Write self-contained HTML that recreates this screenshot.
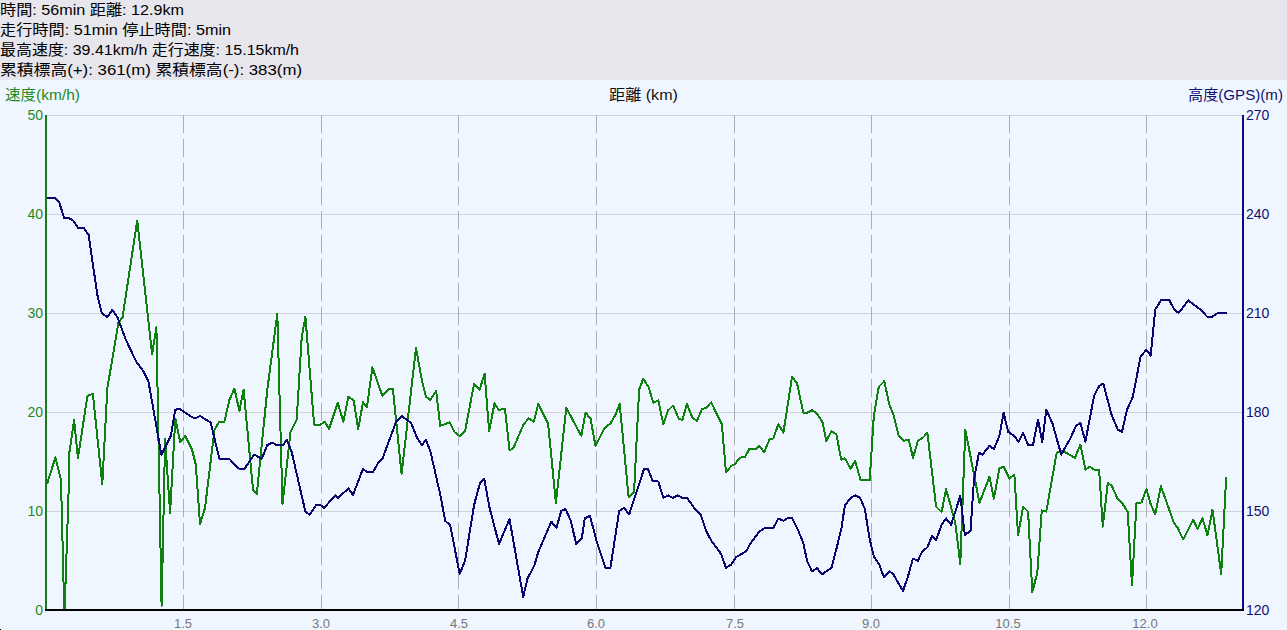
<!DOCTYPE html>
<html lang="ja"><head><meta charset="utf-8"><title>走行ログ グラフ</title>
<style>
html,body{margin:0;padding:0;background:#f0f6ff;}
body{width:1287px;height:630px;overflow:hidden;position:relative;font-family:"Liberation Sans",sans-serif;}
#chart{position:absolute;left:0;top:0;display:block;}
#labels text{font-family:"Liberation Sans","Noto Sans CJK JP",sans-serif;}
.t{position:absolute;height:16px;line-height:16px;font-size:13px;color:transparent;white-space:pre;overflow:hidden;}
</style></head><body>
<svg id="chart" width="1287" height="630" viewBox="0 0 1287 630">
<rect x="0" y="0" width="1287" height="80" fill="#e6e6ec"/>
<rect x="0" y="80" width="1287" height="550" fill="#f0f6ff"/>
<g shape-rendering="crispEdges" fill="none">
<line x1="47" y1="115.5" x2="1242" y2="115.5" stroke="#cfd2d9" stroke-width="1"/>
<line x1="47" y1="214.5" x2="1242" y2="214.5" stroke="#cfd2d9" stroke-width="1"/>
<line x1="47" y1="313.5" x2="1242" y2="313.5" stroke="#cfd2d9" stroke-width="1"/>
<line x1="47" y1="412.5" x2="1242" y2="412.5" stroke="#cfd2d9" stroke-width="1"/>
<line x1="47" y1="511.5" x2="1242" y2="511.5" stroke="#cfd2d9" stroke-width="1"/>
<line x1="183.5" y1="115" x2="183.5" y2="609" stroke="#abadb7" stroke-width="1" stroke-dasharray="18 6"/>
<line x1="321.5" y1="115" x2="321.5" y2="609" stroke="#abadb7" stroke-width="1" stroke-dasharray="18 6"/>
<line x1="458.5" y1="115" x2="458.5" y2="609" stroke="#abadb7" stroke-width="1" stroke-dasharray="18 6"/>
<line x1="596.5" y1="115" x2="596.5" y2="609" stroke="#abadb7" stroke-width="1" stroke-dasharray="18 6"/>
<line x1="734.5" y1="115" x2="734.5" y2="609" stroke="#abadb7" stroke-width="1" stroke-dasharray="18 6"/>
<line x1="871.5" y1="115" x2="871.5" y2="609" stroke="#abadb7" stroke-width="1" stroke-dasharray="18 6"/>
<line x1="1009.5" y1="115" x2="1009.5" y2="609" stroke="#abadb7" stroke-width="1" stroke-dasharray="18 6"/>
<line x1="1146.5" y1="115" x2="1146.5" y2="609" stroke="#abadb7" stroke-width="1" stroke-dasharray="18 6"/>
</g>
<polyline points="47.0,484.0 55.4,457.5 61.0,480.0 64.2,609.0 64.7,609.0 68.8,485.0 69.3,453.0 74.1,419.7 77.9,458.3 87.4,396.0 92.8,393.6 102.3,484.2 107.3,388.6 118.5,322.4 122.5,317.5 137.2,220.6 152.1,354.2 156.4,327.4 161.6,606.0 165.1,439.3 170.1,512.9 175.3,418.5 180.3,442.1 185.3,435.9 192.0,449.6 195.8,464.6 200.0,524.1 205.0,508.0 214.5,429.7 218.9,422.2 224.4,421.7 229.4,399.8 234.4,388.6 239.4,411.0 243.6,389.8 253.1,490.4 256.8,494.2 267.3,389.8 277.3,313.8 282.5,504.2 290.5,432.2 296.7,419.7 301.7,337.5 305.4,316.6 314.1,424.7 320.4,424.7 324.6,421.7 329.1,428.9 337.8,402.8 343.3,421.7 348.3,396.8 353.7,400.3 358.2,428.9 363.0,402.3 366.9,407.3 372.4,367.4 382.4,396.0 388.6,389.3 392.9,389.3 401.6,474.0 416.0,347.9 421.8,379.8 426.0,396.8 430.2,399.8 436.2,391.1 440.2,425.9 449.7,422.2 454.7,432.2 459.7,435.9 465.1,430.9 474.1,383.6 479.6,389.8 484.6,373.6 489.1,430.9 494.5,403.5 498.8,409.7 505.0,409.2 509.5,450.1 513.2,448.4 523.7,424.2 528.7,418.5 533.9,421.7 538.2,404.0 548.1,423.5 555.9,502.9 566.3,407.8 581.3,435.9 585.5,412.7 590.5,418.5 595.5,445.9 604.2,428.4 610.4,423.5 615.4,414.7 619.7,404.0 628.6,497.2 634.1,491.7 639.1,389.8 643.3,378.6 648.6,387.3 653.3,402.8 658.3,400.5 663.3,424.0 668.2,410.2 673.0,405.5 678.7,418.5 682.4,420.2 686.9,404.0 692.4,417.7 696.9,421.0 701.9,409.3 706.1,407.8 711.1,402.3 721.8,424.2 726.0,472.1 731.5,465.8 734.8,464.1 740.2,457.6 745.2,456.6 749.2,449.1 756.0,448.9 759.2,445.9 764.2,452.1 769.7,439.2 773.4,438.4 778.4,424.0 783.4,432.7 792.1,376.6 797.1,383.6 803.3,412.7 807.0,412.7 812.0,410.2 817.0,413.5 822.5,422.2 826.2,440.9 831.5,431.4 836.4,434.2 841.2,459.6 844.9,458.3 850.7,468.8 855.1,460.8 860.6,480.0 869.7,480.0 873.8,416.0 878.8,386.8 884.3,381.1 889.3,404.8 893.5,414.7 898.8,435.9 903.7,440.9 908.7,439.7 913.0,457.8 917.9,440.9 922.9,437.7 927.4,432.7 936.1,506.6 941.6,512.1 946.1,489.2 955.3,522.8 960.3,564.0 965.3,429.7 979.5,502.9 989.4,476.7 993.9,498.7 999.4,468.3 1003.6,466.6 1009.4,478.6 1014.4,474.7 1018.1,535.3 1023.1,506.6 1028.1,511.6 1032.3,592.1 1037.3,572.7 1041.8,510.4 1046.3,511.6 1056.7,452.6 1063.0,450.9 1074.9,457.8 1080.4,444.6 1085.4,469.6 1089.9,466.6 1094.1,469.6 1099.1,469.6 1102.8,526.6 1107.8,483.0 1111.5,485.5 1117.8,499.2 1122.8,504.2 1127.7,511.6 1132.0,585.1 1136.5,503.4 1141.5,502.4 1146.4,489.2 1150.7,504.2 1155.2,514.1 1160.9,486.2 1173.9,522.8 1177.6,527.8 1183.3,539.5 1193.3,519.6 1197.5,529.1 1202.5,518.4 1207.5,535.3 1212.5,509.6 1221.2,573.9 1226.2,476.7" fill="none" stroke="#0c820c" stroke-width="2" stroke-linejoin="round" stroke-linecap="butt" shape-rendering="crispEdges"/>
<polyline points="47.0,198.0 55.5,198.0 59.4,203.0 64.2,217.9 68.7,217.9 73.6,221.0 77.9,227.8 83.6,227.8 88.6,234.8 97.3,294.6 101.8,313.3 107.3,317.0 112.3,310.0 117.3,317.0 126.0,340.0 136.0,361.2 143.4,371.1 148.4,381.1 161.4,454.6 170.8,435.9 175.3,409.7 179.6,409.0 189.5,415.5 194.5,418.5 200.2,416.0 210.7,422.7 219.4,458.8 229.4,458.8 234.4,464.6 239.4,468.8 244.4,468.8 254.3,454.6 261.8,458.8 267.3,445.1 272.3,442.6 276.8,445.1 283.0,445.1 286.7,439.7 291.7,452.1 305.4,511.6 309.7,514.9 316.1,504.9 320.4,504.9 324.1,507.9 335.3,495.4 337.8,497.9 348.5,488.5 353.0,494.9 363.0,468.8 366.9,472.1 372.9,472.1 378.7,462.1 382.4,458.8 396.1,421.7 401.6,416.0 411.1,423.0 416.8,437.2 421.8,445.1 426.0,439.7 430.4,451.4 440.4,495.2 445.2,520.8 450.2,525.3 459.7,573.9 465.1,560.7 474.1,504.9 480.1,482.5 484.2,478.8 489.6,507.9 499.0,544.0 509.5,519.1 523.2,596.9 527.4,578.9 534.4,565.2 538.2,552.3 551.4,521.6 556.4,527.8 561.3,510.9 565.6,509.1 570.6,520.4 576.3,544.0 581.8,538.3 584.8,518.4 590.0,515.9 596.7,541.5 605.5,567.7 610.4,567.7 619.2,510.9 624.1,507.9 629.1,514.6 644.1,468.8 647.8,468.8 652.8,481.3 658.3,481.5 663.3,497.9 668.2,495.4 672.5,497.9 677.9,495.4 682.4,497.9 686.9,497.9 696.1,510.4 701.1,515.4 706.1,530.8 711.1,540.3 721.1,554.0 726.0,567.7 731.0,564.7 736.0,557.2 746.0,551.5 750.2,544.0 759.2,531.6 765.2,527.8 773.4,527.8 778.4,518.6 783.4,520.8 787.1,518.4 792.1,517.9 798.3,530.8 803.3,542.8 807.0,560.7 812.0,571.4 817.0,568.2 822.0,574.4 831.5,567.7 836.4,549.0 841.4,528.3 844.9,505.4 850.7,497.9 855.1,495.4 860.1,497.9 864.9,509.1 869.3,537.3 873.8,556.5 879.3,564.7 883.8,576.9 889.3,571.4 893.0,573.9 898.8,583.9 903.0,590.9 908.0,576.4 913.0,558.5 917.9,560.7 922.2,551.5 927.4,547.3 932.1,535.8 936.1,540.3 941.6,524.8 946.1,518.4 951.1,524.8 960.3,495.9 964.8,534.8 970.5,531.0 974.0,479.5 979.0,452.6 982.5,454.6 989.4,445.9 993.9,449.1 999.4,435.9 1003.6,412.7 1008.1,431.7 1013.9,435.9 1018.6,441.6 1023.1,432.7 1028.1,445.1 1033.0,445.1 1038.0,419.7 1042.3,442.1 1046.3,409.7 1052.5,423.5 1061.2,454.6 1070.4,438.4 1075.9,425.9 1080.4,422.7 1085.4,441.6 1094.1,396.0 1099.1,386.1 1103.3,383.6 1111.5,414.7 1117.8,429.7 1122.0,431.7 1127.0,409.7 1132.7,397.3 1140.7,356.2 1146.4,349.9 1150.7,355.7 1155.2,309.6 1160.9,300.4 1169.4,300.4 1174.6,310.1 1178.8,312.8 1188.3,300.4 1201.3,310.1 1207.0,316.6 1212.5,316.6 1218.2,312.8 1226.7,312.8" fill="none" stroke="#06066e" stroke-width="2" stroke-linejoin="round" stroke-linecap="butt" shape-rendering="crispEdges"/>
<g shape-rendering="crispEdges">
<rect x="45" y="115" width="2" height="496" fill="#1c7c1c"/>
<rect x="1242" y="115" width="2" height="496" fill="#0a0a82"/>
<rect x="45" y="609" width="1199" height="2" fill="#000"/>
<rect x="0" y="629" width="1" height="1" fill="#000"/>
</g>
<g id="labels">
<text x="0" y="15" font-size="15" fill="#000" textLength="184" lengthAdjust="spacingAndGlyphs" xml:space="preserve">時間: 56min 距離: 12.9km</text>
<text x="0" y="35" font-size="15" fill="#000" textLength="231" lengthAdjust="spacingAndGlyphs" xml:space="preserve">走行時間: 51min 停止時間: 5min</text>
<text x="0" y="55" font-size="15" fill="#000" textLength="299" lengthAdjust="spacingAndGlyphs" xml:space="preserve">最高速度: 39.41km/h 走行速度: 15.15km/h</text>
<text x="0" y="75" font-size="15" fill="#000" textLength="302" lengthAdjust="spacingAndGlyphs" xml:space="preserve">累積標高(+): 361(m) 累積標高(-): 383(m)</text>
<text x="5" y="100" font-size="15" fill="#1f8a1f" textLength="75" lengthAdjust="spacingAndGlyphs">速度(km/h)</text>
<text x="609" y="100" font-size="15" fill="#111" textLength="69" lengthAdjust="spacingAndGlyphs" xml:space="preserve">距離 (km)</text>
<text x="1188" y="100" font-size="15" fill="#10106e" textLength="95" lengthAdjust="spacingAndGlyphs">高度(GPS)(m)</text>
<text x="43" y="120" font-size="14" fill="#1f8a1f" text-anchor="end">50</text>
<text x="43" y="219" font-size="14" fill="#1f8a1f" text-anchor="end">40</text>
<text x="43" y="318" font-size="14" fill="#1f8a1f" text-anchor="end">30</text>
<text x="43" y="417" font-size="14" fill="#1f8a1f" text-anchor="end">20</text>
<text x="43" y="516" font-size="14" fill="#1f8a1f" text-anchor="end">10</text>
<text x="43" y="615" font-size="14" fill="#1f8a1f" text-anchor="end">0</text>
<text x="1246" y="120" font-size="14" fill="#10106e">270</text>
<text x="1246" y="219" font-size="14" fill="#10106e">240</text>
<text x="1246" y="318" font-size="14" fill="#10106e">210</text>
<text x="1246" y="417" font-size="14" fill="#10106e">180</text>
<text x="1246" y="516" font-size="14" fill="#10106e">150</text>
<text x="1246" y="615" font-size="14" fill="#10106e">120</text>
<text x="183" y="628" font-size="13" fill="#777" text-anchor="middle">1.5</text>
<text x="321" y="628" font-size="13" fill="#777" text-anchor="middle">3.0</text>
<text x="459" y="628" font-size="13" fill="#777" text-anchor="middle">4.5</text>
<text x="596" y="628" font-size="13" fill="#777" text-anchor="middle">6.0</text>
<text x="735" y="628" font-size="13" fill="#777" text-anchor="middle">7.5</text>
<text x="871" y="628" font-size="13" fill="#777" text-anchor="middle">9.0</text>
<text x="1008" y="628" font-size="13" fill="#777" text-anchor="middle">10.5</text>
<text x="1145" y="628" font-size="13" fill="#777" text-anchor="middle">12.0</text>
</g>
</svg>
<span class="t" style="left:0px;top:2px;width:185px">時間: 56min 距離: 12.9km</span>
<span class="t" style="left:0px;top:22px;width:232px">走行時間: 51min 停止時間: 5min</span>
<span class="t" style="left:0px;top:42px;width:300px">最高速度: 39.41km/h 走行速度: 15.15km/h</span>
<span class="t" style="left:0px;top:62px;width:303px">累積標高(+): 361(m) 累積標高(-): 383(m)</span>
<span class="t" style="left:5px;top:87px;width:76px">速度(km/h)</span>
<span class="t" style="left:609px;top:87px;width:69px">距離 (km)</span>
<span class="t" style="left:1188px;top:87px;width:95px">高度(GPS)(m)</span>
<span class="t" style="left:27px;top:107px;width:16px">50</span>
<span class="t" style="left:27px;top:206px;width:16px">40</span>
<span class="t" style="left:27px;top:305px;width:16px">30</span>
<span class="t" style="left:27px;top:404px;width:16px">20</span>
<span class="t" style="left:27px;top:503px;width:16px">10</span>
<span class="t" style="left:35px;top:602px;width:8px">0</span>
<span class="t" style="left:1246px;top:107px;width:24px">270</span>
<span class="t" style="left:1246px;top:206px;width:24px">240</span>
<span class="t" style="left:1246px;top:305px;width:24px">210</span>
<span class="t" style="left:1246px;top:404px;width:24px">180</span>
<span class="t" style="left:1246px;top:503px;width:24px">150</span>
<span class="t" style="left:1246px;top:602px;width:24px">120</span>
<span class="t" style="left:172px;top:614px;width:24px">1.5</span>
<span class="t" style="left:310px;top:614px;width:24px">3.0</span>
<span class="t" style="left:446px;top:614px;width:24px">4.5</span>
<span class="t" style="left:584px;top:614px;width:24px">6.0</span>
<span class="t" style="left:722px;top:614px;width:24px">7.5</span>
<span class="t" style="left:860px;top:614px;width:24px">9.0</span>
<span class="t" style="left:994px;top:614px;width:32px">10.5</span>
<span class="t" style="left:1130px;top:614px;width:32px">12.0</span>
</body></html>
